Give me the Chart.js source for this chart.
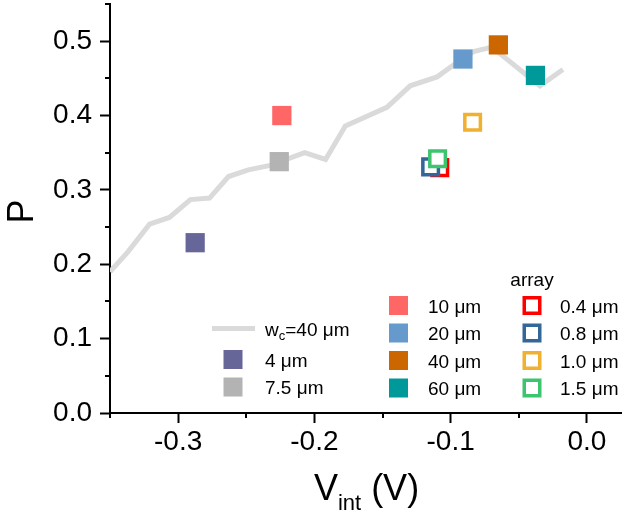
<!DOCTYPE html>
<html>
<head>
<meta charset="utf-8">
<script src="https://cdn.jsdelivr.net/npm/chart.js@4"></script>
<style>
  html, body { margin: 0; padding: 0; background: #fff; }
</style>
</head>
<body>
<canvas id="chart" width="624" height="516"></canvas>
<script>
// reference curve, w_c = 40 um
const curveV = [-0.35, -0.3367, -0.321, -0.3064, -0.291, -0.277, -0.263, -0.2485, -0.2324, -0.2072,
                -0.1918, -0.1773, -0.1468, -0.1297, -0.110, -0.0979, -0.0833, -0.0698, -0.0345, -0.0176];
const curveP = [0.190, 0.217, 0.254, 0.263, 0.287, 0.289, 0.318, 0.327, 0.333, 0.350,
                0.341, 0.386, 0.411, 0.440, 0.452, 0.468, 0.486, 0.492, 0.440, 0.462];

// single devices (filled squares)
const sizeLabels = ['4 μm', '7.5 μm', '10 μm', '20 μm', '40 μm', '60 μm'];
const sizeV = [-0.2875, -0.2258, -0.2239, -0.091, -0.065, -0.0378];
const sizeP = [0.229, 0.338, 0.400, 0.476, 0.495, 0.454];

// arrays (open squares)
const arrayLabels = ['0.4 μm', '0.8 μm', '1.0 μm', '1.5 μm'];
const arrayV = [-0.108, -0.1147, -0.0839, -0.1096];
const arrayP = [0.330, 0.331, 0.391, 0.342];

const xTickValues = [-0.3, -0.2, -0.1, 0.0];
const yTickValues = [0, 0.1, 0.2, 0.3, 0.4, 0.5];
const xMinorValues = [-0.35, -0.25, -0.15, -0.05];
const yMinorValues = [0.05, 0.15, 0.25, 0.35, 0.45, 0.55];

const sizeColors = ['#666699', '#b3b3b3', '#ff6666', '#6699cc', '#cc6600', '#009999'];
const arrayColors = ['#ff0000', '#336699', '#f0b030', '#3cc46e'];
const lineColor = '#dadada';
const FONT = "'Liberation Sans', Arial, sans-serif";

Chart.defaults.font.family = FONT;
Chart.defaults.color = '#000';

const datasets = [{
  label: 'wc=40 μm',
  type: 'line',
  data: curveV.map((v, i) => ({ x: v, y: curveP[i] })),
  borderColor: lineColor,
  borderWidth: 5,
  pointRadius: 0,
  fill: false,
  tension: 0,
  order: 50
}];
sizeLabels.forEach((lab, i) => {
  datasets.push({
    label: lab,
    data: [{ x: sizeV[i], y: sizeP[i] }],
    pointStyle: 'rect',
    pointRadius: 13.6,
    backgroundColor: sizeColors[i],
    borderWidth: 0,
    order: 20 - i
  });
});
arrayLabels.forEach((lab, i) => {
  datasets.push({
    label: lab,
    data: [{ x: arrayV[i], y: arrayP[i] }],
    pointStyle: 'rect',
    pointRadius: 11,
    backgroundColor: '#fff',
    borderColor: arrayColors[i],
    borderWidth: 3.5,
    order: 10 - i
  });
});

// minor ticks, axis titles and the legend
const extras = {
  id: 'extras',
  afterDraw(chart) {
    const ctx = chart.ctx;
    const xs = chart.scales.x, ys = chart.scales.y;
    const area = chart.chartArea;
    ctx.save();
    ctx.strokeStyle = '#000';
    ctx.lineWidth = 2;
    ctx.beginPath();
    xMinorValues.forEach(v => {
      const px = Math.round(xs.getPixelForValue(v));
      ctx.moveTo(px, area.bottom);
      ctx.lineTo(px, area.bottom + 5);
    });
    yMinorValues.forEach(v => {
      const py = Math.round(ys.getPixelForValue(v));
      ctx.moveTo(area.left, py);
      ctx.lineTo(area.left - 5, py);
    });
    ctx.stroke();

    // y title
    ctx.fillStyle = '#000';
    ctx.font = '36px ' + FONT;
    ctx.textAlign = 'center';
    ctx.textBaseline = 'middle';
    ctx.save();
    ctx.translate(23, (area.top + area.bottom) / 2 + 3);
    ctx.rotate(-Math.PI / 2);
    ctx.fillText('P', 0, 0);
    ctx.restore();

    // x title with subscript
    ctx.textAlign = 'left';
    ctx.textBaseline = 'alphabetic';
    const big = '36px ' + FONT, small = '22px ' + FONT;
    ctx.font = big; const w1 = ctx.measureText('V').width;
    ctx.font = small; const w2 = ctx.measureText('int').width;
    ctx.font = big; const w3 = ctx.measureText(' (V)').width;
    let tx = (area.left + area.right) / 2 + 1 - (w1 + w2 + w3) / 2;
    const base = 500;
    ctx.font = big; ctx.fillText('V', tx, base); tx += w1;
    ctx.font = small; ctx.fillText('int', tx, base + 10); tx += w2;
    ctx.font = big; ctx.fillText(' (V)', tx, base);

    // legend
    const lf = '19px ' + FONT;
    const sq = 19;
    ctx.font = lf;
    // line entry
    ctx.strokeStyle = lineColor;
    ctx.lineWidth = 5;
    ctx.beginPath();
    ctx.moveTo(212, 328.5);
    ctx.lineTo(255, 328.5);
    ctx.stroke();
    ctx.fillStyle = '#000';
    let lx = 265;
    ctx.fillText('w', lx, 336); lx += ctx.measureText('w').width;
    ctx.font = '13px ' + FONT;
    ctx.fillText('c', lx, 340); lx += ctx.measureText('c').width;
    ctx.font = lf;
    ctx.fillText('=40 μm', lx, 336);

    const filled = chart.data.datasets.slice(1, 7);
    const open = chart.data.datasets.slice(7);
    const col1 = [[233, 359.5], [233, 387]];
    const col2 = [[398.5, 305.5], [398.5, 333], [398.5, 360.5], [398.5, 388]];
    const pos = col1.concat(col2);
    filled.forEach((ds, i) => {
      const [cx, cy] = pos[i];
      ctx.fillStyle = ds.backgroundColor;
      ctx.fillRect(cx - sq / 2, cy - sq / 2, sq, sq);
      ctx.fillStyle = '#000';
      ctx.fillText(ds.label, i < 2 ? 265 : 428, cy + 7);
    });
    ctx.textAlign = 'center';
    ctx.fillText('array', 532, 286);
    ctx.textAlign = 'left';
    open.forEach((ds, i) => {
      const cx = 532, cy = col2[i][1];
      ctx.strokeStyle = ds.borderColor;
      ctx.lineWidth = 3.5;
      const s = sq - 3.5;
      ctx.strokeRect(cx - s / 2, cy - s / 2, s, s);
      ctx.fillStyle = '#000';
      ctx.fillText(ds.label, 560, cy + 7);
    });
    ctx.restore();
  }
};

new Chart(document.getElementById('chart'), {
  type: 'scatter',
  data: { datasets: datasets },
  options: {
    responsive: false,
    animation: false,
    events: [],
    layout: { autoPadding: false, padding: { left: 0, right: 3, top: 4, bottom: 0 } },
    plugins: { legend: { display: false }, tooltip: { enabled: false } },
    scales: {
      x: {
        type: 'linear',
        min: -0.35,
        max: 0.025,
        afterBuildTicks: s => { s.ticks = xTickValues.map(v => ({ value: v })); },
        afterFit: s => { s.height = 103; s.paddingLeft = 0; s.paddingRight = 0; },
        grid: { drawOnChartArea: false, drawTicks: true, tickLength: 10, tickWidth: 2, tickColor: '#000' },
        border: { color: '#000', width: 2 },
        ticks: { color: '#000', font: { size: 28 }, padding: 2, maxRotation: 0, autoSkip: false,
                 callback: v => Number(v).toFixed(1) }
      },
      y: {
        type: 'linear',
        min: 0,
        max: 0.55,
        afterBuildTicks: s => { s.ticks = yTickValues.map(v => ({ value: v })); },
        afterFit: s => { s.width = 110; s.paddingTop = 0; s.paddingBottom = 0; },
        grid: { drawOnChartArea: false, drawTicks: true, tickLength: 10, tickWidth: 2, tickColor: '#000' },
        border: { color: '#000', width: 2 },
        ticks: { color: '#000', font: { size: 28 }, padding: 8, autoSkip: false,
                 callback: v => Number(v).toFixed(1) }
      }
    }
  },
  plugins: [extras]
});
</script>
</body>
</html>
